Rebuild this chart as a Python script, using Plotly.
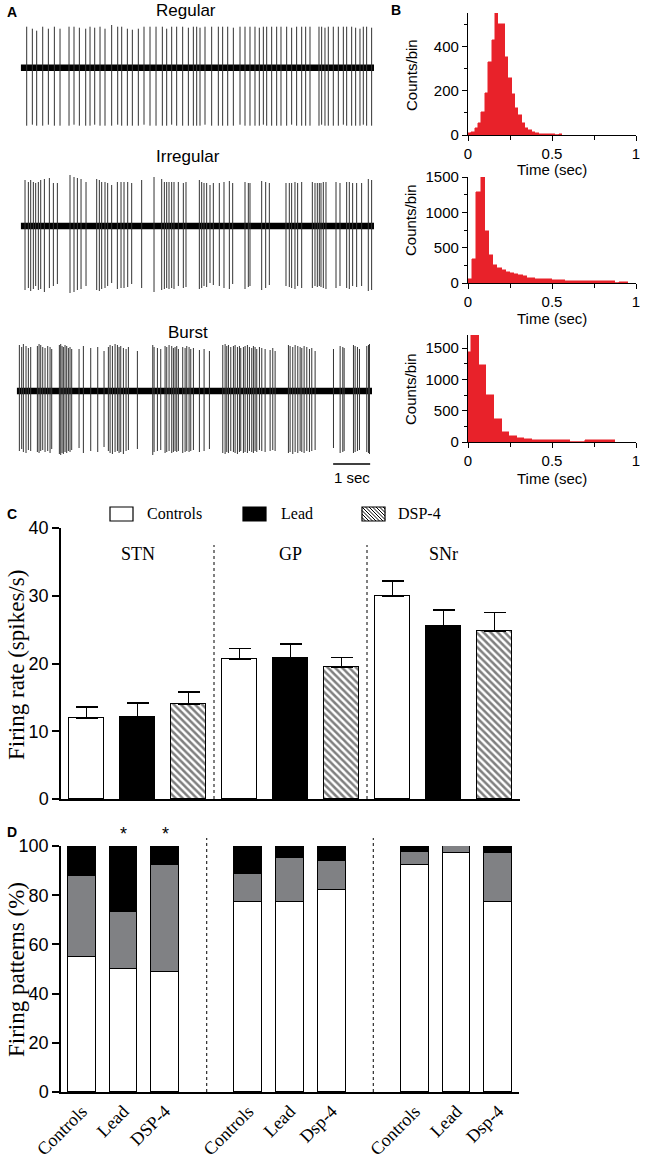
import plotly.graph_objects as go

W, H = 655, 1158


def fx(p):
    return p / W


def fy(p):
    return 1 - p / H


SANS = "Liberation Sans, Arial, sans-serif"
SERIF = "Liberation Serif, Times New Roman, serif"

# ---------------- Panel A : spike trains (time in s, amplitudes in a.u.) ----------------
regular_times = [0.162, 0.315, 0.432, 0.595, 0.748, 0.910, 1.063, 1.306, 1.441, 1.586,
                 1.757, 1.874, 2.000, 2.144, 2.279, 2.459, 2.622, 2.730, 2.883, 3.018,
                 3.180, 3.333, 3.495, 3.658, 3.829, 3.946, 4.081, 4.216, 4.378, 4.532,
                 4.667, 4.757, 4.847, 4.982, 5.162, 5.342, 5.459, 5.595, 5.748, 5.928,
                 6.063, 6.198, 6.333, 6.450, 6.559, 6.649, 6.784, 6.919, 7.036, 7.189,
                 7.324, 7.459, 7.595, 7.703, 7.820, 8.063, 8.135, 8.225, 8.315, 8.450,
                 8.586, 8.721, 8.811, 8.946, 9.054, 9.171, 9.261, 9.351, 9.486]
regular_up = [41, 39, 37, 41, 39, 41, 39, 41, 41, 40,
              39, 41, 40, 41, 39, 43, 41, 41, 39, 38,
              39, 41, 41, 41, 41, 39, 41, 41, 41, 40,
              41, 41, 40, 41, 41, 41, 41, 41, 40, 41,
              41, 41, 41, 40, 41, 41, 41, 41, 41, 41,
              40, 41, 41, 41, 41, 41, 41, 40, 41, 41,
              41, 41, 41, 41, 40, 39, 41, 41, 40]
regular_down = [58, 57, 58, 58, 57, 58, 58, 58, 57, 58,
                58, 58, 57, 58, 58, 58, 57, 58, 58, 58,
                58, 57, 58, 58, 58, 58, 57, 58, 58, 58,
                58, 58, 58, 57, 58, 58, 58, 58, 58, 57,
                58, 58, 58, 58, 57, 58, 58, 58, 58, 58,
                57, 58, 58, 58, 58, 58, 57, 58, 58, 58,
                58, 57, 58, 58, 58, 58, 57, 58, 58]

irregular_times = [0.117, 0.207, 0.270, 0.342, 0.405, 0.477, 0.541, 0.640, 0.775, 0.883,
                   0.991, 1.333, 1.441, 1.532, 1.631, 1.766, 2.054, 2.126, 2.189, 2.279,
                   2.351, 2.459, 2.613, 2.712, 2.793, 2.892, 3.000, 3.270, 3.604, 3.811,
                   3.883, 3.946, 4.009, 4.081, 4.144, 4.261, 4.396, 4.468, 4.829, 4.892,
                   4.955, 5.027, 5.117, 5.207, 5.369, 5.495, 5.640, 5.730, 6.063, 6.153,
                   6.198, 6.514, 6.622, 6.721, 7.171, 7.261, 7.324, 7.414, 7.486, 7.595,
                   7.883, 7.955, 8.018, 8.072, 8.117, 8.180, 8.252, 8.523, 8.631, 8.811,
                   8.883, 8.973, 9.081, 9.216, 9.396, 9.486]
irregular_up = [46, 44, 46, 44, 43, 44, 46, 47, 48, 43,
                43, 51, 49, 48, 47, 44, 47, 46, 44, 44,
                43, 41, 44, 44, 44, 44, 43, 46, 49, 47,
                44, 44, 44, 44, 44, 44, 43, 44, 46, 44,
                43, 43, 41, 43, 43, 44, 45, 43, 44, 43,
                43, 45, 44, 43, 43, 43, 43, 44, 43, 44,
                44, 43, 43, 43, 43, 44, 44, 44, 43, 44,
                44, 43, 43, 43, 47, 46]
irregular_down = [64, 62, 65, 63, 60, 64, 63, 66, 62, 60,
                  58, 67, 66, 64, 63, 60, 64, 65, 63, 62,
                  60, 57, 63, 62, 62, 61, 58, 62, 66, 64,
                  63, 62, 63, 62, 63, 60, 62, 61, 63, 62,
                  60, 61, 57, 59, 60, 62, 63, 58, 63, 61,
                  60, 64, 62, 59, 60, 61, 62, 63, 60, 62,
                  62, 60, 61, 60, 61, 62, 63, 62, 60, 62,
                  63, 60, 61, 60, 65, 64]

burst_times = [0.072, 0.135, 0.180, 0.252, 0.315, 0.378,
               0.559, 0.604, 0.649, 0.703, 0.766, 0.838, 0.901, 0.946,
               1.153, 1.189, 1.225, 1.261, 1.306, 1.351, 1.396, 1.441, 1.486,
               1.685, 1.802, 2.000, 2.189, 2.360,
               2.477, 2.523, 2.586, 2.658, 2.721, 2.766, 2.811, 2.883, 2.955, 3.018,
               3.261,
               3.676, 3.712, 3.802, 3.892,
               4.009, 4.054, 4.117, 4.189, 4.234, 4.279, 4.324, 4.369, 4.486, 4.550,
               4.595, 4.658, 4.703, 4.775, 4.937, 5.063, 5.207,
               5.568, 5.631, 5.676, 5.721, 5.784, 5.856, 5.901, 5.964, 6.018, 6.054,
               6.126, 6.171, 6.234, 6.288, 6.351, 6.396, 6.441, 6.486, 6.559, 6.622,
               6.712, 6.847, 6.919, 6.982,
               7.342, 7.387, 7.459, 7.523, 7.595, 7.658, 7.703, 7.766, 7.838, 7.910,
               7.973, 8.063,
               8.559, 8.739, 8.811, 8.847, 9.099, 9.144, 9.207, 9.261, 9.459, 9.505, 9.532]
burst_up = [46, 44, 47, 45, 43, 44,
            45, 47, 46, 44, 43, 45, 44, 42,
            46, 47, 45, 44, 46, 45, 43, 44, 42,
            42, 45, 43, 44, 40,
            44, 46, 45, 47, 46, 44, 45, 43, 42, 44,
            40,
            46, 44, 43, 42,
            45, 44, 46, 45, 43, 44, 45, 42, 44, 43, 45, 44, 42, 43, 41, 42, 40,
            46, 47, 45, 46, 44, 45, 46, 44, 45, 43, 44, 45, 46, 44, 43, 45, 44, 42,
            44, 43, 42, 41, 43, 40,
            46, 45, 44, 46, 45, 44, 43, 45, 44, 42, 43, 40,
            42, 45, 44, 43, 46, 45, 44, 42, 45, 46, 47]
burst_down = [60, 58, 61, 62, 59, 60,
              61, 62, 60, 59, 61, 60, 62, 58,
              63, 64, 62, 63, 61, 62, 60, 61, 59,
              57, 62, 60, 61, 56,
              60, 62, 63, 61, 60, 62, 61, 63, 60, 59,
              58,
              64, 61, 60, 59,
              62, 61, 60, 62, 61, 60, 61, 60, 62, 61, 60, 61, 60, 59, 61, 60, 58,
              62, 63, 61, 62, 60, 61, 62, 63, 61, 60, 62, 61, 62, 60, 61, 62, 60, 61,
              59, 60, 61, 60, 59, 60,
              62, 61, 63, 61, 62, 60, 61, 62, 60, 61, 60, 59,
              57, 62, 61, 60, 62, 61, 60, 59, 61, 62, 63]
trace_titles = ["Regular", "Irregular", "Burst"]
trace_durations = [9.55, 9.55, 9.6]
scale_bar_sec = 1

# ---------------- Panel B : interspike-interval histograms ----------------
hist_regular_counts = [8, 12, 30, 55, 105, 190, 330, 430, 550, 500, 500, 350, 255, 187, 120,
                       90, 52, 30, 22, 12, 10, 5, 4, 4, 3, 3, 0, 6]
hist_regular_bin = 0.02
hist_regular_start = 0.0

hist_irregular_counts = [55, 340, 1290, 1500, 740, 390, 258, 211, 178, 155, 135, 128, 110, 100,
                         75, 68, 62, 60, 58, 50, 47, 45, 42, 28, 25, 25, 23, 22, 22, 24, 23, 23,
                         22, 22, 22, 0, 20, 18]
hist_irregular_bin = 0.025
hist_irregular_start = 0.0

hist_burst_counts = [1436, 1710, 1234, 755, 372, 154, 90, 64, 48, 38, 32, 32, 32, 32, 0, 0,
                     32, 32, 32, 32]
hist_burst_bin = 0.045
hist_burst_start = -0.025

# ---------------- Panel C : firing rate ----------------
regions = ["STN", "GP", "SNr"]
groups = ["Controls", "Lead", "DSP-4"]
rate_controls = [11.9, 20.7, 29.9]
rate_lead = [12.1, 20.8, 25.6]
rate_dsp4 = [14.0, 19.5, 24.8]
sem_controls = [1.7, 1.5, 2.3]
sem_lead = [2.1, 2.1, 2.3]
sem_dsp4 = [1.8, 1.4, 2.7]

# ---------------- Panel D : firing patterns (%) ----------------
pattern_labels = ["Controls", "Lead", "DSP-4", "Controls", "Lead", "Dsp-4",
                  "Controls", "Lead", "Dsp-4"]
pct_regular = [54.8, 50.0, 48.8, 77.4, 77.4, 82.1, 92.4, 97.0, 77.4]
pct_irregular = [33.0, 23.3, 43.5, 11.2, 17.8, 11.8, 5.0, 3.0, 19.8]
pct_burst = [12.2, 26.7, 7.7, 11.4, 4.8, 6.1, 2.6, 0.0, 2.8]
significant = [False, True, True, False, False, False, False, False, False]

fig = go.Figure()

# ---- Panel A traces ----
trace_sets = [(regular_times, regular_up, regular_down),
              (irregular_times, irregular_up, irregular_down),
              (burst_times, burst_up, burst_down)]
for i, (ts, ups, downs) in enumerate(trace_sets):
    ax = "" if i == 0 else str(i + 1)
    xs, ys = [], []
    for t, u, d in zip(ts, ups, downs):
        xs += [t, t, None]
        ys += [u, -d, None]
    fig.add_trace(go.Scatter(x=[0, trace_durations[i]], y=[0, 0], mode="lines",
                             line=dict(color="black", width=6.5), xaxis="x" + ax, yaxis="y" + ax,
                             showlegend=False, hoverinfo="skip"))
    fig.add_trace(go.Scatter(x=xs, y=ys, mode="lines", line=dict(color="#333333", width=1),
                             xaxis="x" + ax, yaxis="y" + ax, showlegend=False, hoverinfo="skip"))

# ---- Panel B histograms ----
hists = [(hist_regular_counts, hist_regular_bin, hist_regular_start),
         (hist_irregular_counts, hist_irregular_bin, hist_irregular_start),
         (hist_burst_counts, hist_burst_bin, hist_burst_start)]
for i, (counts, bw, start) in enumerate(hists):
    ax = str(i + 4)
    fig.add_trace(go.Bar(y=counts, x0=start + bw / 2, dx=bw, width=bw,
                         marker=dict(color="#E8222A", line=dict(color="#E8222A", width=0.5)),
                         xaxis="x" + ax, yaxis="y" + ax, showlegend=False))

# ---- Panel C bars ----
c_series = [(rate_controls, sem_controls, "white", ""),
            (rate_lead, sem_lead, "black", ""),
            (rate_dsp4, sem_dsp4, "white", "\\")]
for j, (vals, sems, col, pat) in enumerate(c_series):
    xs = [3 * r + j for r in range(len(regions))]
    fig.add_trace(go.Bar(
        x=xs, y=vals, width=0.67,
        marker=dict(color=col, line=dict(color="black", width=1.5),
                    pattern=dict(shape=pat, fgcolor="black", bgcolor="white", size=5,
                                 solidity=0.5) if pat else None),
        error_y=dict(type="data", symmetric=False, array=sems,
                     arrayminus=[0] * len(sems), color="black", thickness=1.5, width=11),
        xaxis="x7", yaxis="y7", showlegend=False, name=groups[j]))

# ---- Panel D stacked bars ----
d_pos = [0, 1, 2, 4, 5, 6, 8, 9, 10]
for vals, col in [(pct_regular, "white"), (pct_irregular, "#808184"), (pct_burst, "black")]:
    fig.add_trace(go.Bar(x=d_pos, y=vals, width=0.67,
                         marker=dict(color=col, line=dict(color="black", width=1.2)),
                         xaxis="x8", yaxis="y8", showlegend=False))

hidden = dict(visible=False, showgrid=False, zeroline=False, automargin=False)
layout = dict(
    width=W, height=H, margin=dict(l=0, r=0, t=0, b=0, autoexpand=False),
    paper_bgcolor="white", plot_bgcolor="white", barmode="stack", bargap=0,
    font=dict(family=SANS, color="black"),
    xaxis=dict(domain=[fx(20.7), fx(374)], range=[0, trace_durations[0]], anchor="y", **hidden),
    yaxis=dict(domain=[fy(128), fy(25)], range=[-60.3, 42.7], anchor="x", **hidden),
    xaxis2=dict(domain=[fx(20.7), fx(374)], range=[0, trace_durations[1]], anchor="y2", **hidden),
    yaxis2=dict(domain=[fy(296), fy(172)], range=[-70, 54], anchor="x2", **hidden),
    xaxis3=dict(domain=[fx(16.7), fx(372)], range=[0, trace_durations[2]], anchor="y3", **hidden),
    yaxis3=dict(domain=[fy(458), fy(340)], range=[-67, 51], anchor="x3", **hidden),
)

hist_y = [((135, 13), 550, 200, 100), ((283, 177), 1500, 500, 250), ((442, 335), 1710, 500, 250)]
for i, ((b, t), top, dt, mdt) in enumerate(hist_y):
    ax = str(i + 4)
    axis_common = dict(showline=True, linecolor="black", linewidth=1.2, ticks="outside",
                       ticklen=5, tickwidth=1.2, tickcolor="black", showgrid=False,
                       zeroline=False, automargin=False, tickfont=dict(size=15, family=SANS))
    layout["xaxis" + ax] = dict(domain=[fx(468), fx(636)], range=[0, 1], anchor="y" + ax,
                                tickmode="linear", tick0=0, dtick=0.5,
                                minor=dict(tickmode="linear", tick0=0, dtick=0.25, ticks="outside",
                                           ticklen=4, tickcolor="black", tickwidth=1.2),
                                **axis_common)
    layout["yaxis" + ax] = dict(domain=[fy(b), fy(t)], range=[0, top], anchor="x" + ax,
                                tickmode="linear", tick0=0, dtick=dt,
                                minor=dict(tickmode="linear", tick0=0, dtick=mdt, ticks="outside",
                                           ticklen=3, tickcolor="black", tickwidth=1.2),
                                **axis_common)

layout["xaxis7"] = dict(domain=[fx(61), fx(520)], range=[-0.5, 8.5], anchor="y7",
                        showline=True, linecolor="black", linewidth=1.5, showticklabels=False,
                        ticks="", showgrid=False, zeroline=False, automargin=False)
layout["yaxis7"] = dict(domain=[fy(799), fy(528)], range=[0, 40], anchor="x7",
                        showline=True, linecolor="black", linewidth=1.5, ticks="outside",
                        ticklen=7, tickwidth=1.5, tickcolor="black", dtick=10, showgrid=False,
                        zeroline=False, automargin=False, tickfont=dict(size=18, family=SANS))
layout["xaxis8"] = dict(domain=[fx(61), fx(519)], range=[-0.5, 10.5], anchor="y8",
                        showline=True, linecolor="black", linewidth=1.5, ticks="",
                        tickmode="array", tickvals=d_pos, ticktext=pattern_labels,
                        tickangle=-45, tickfont=dict(size=18, family=SERIF),
                        showgrid=False, zeroline=False, automargin=False)
layout["yaxis8"] = dict(domain=[fy(1092), fy(846)], range=[0, 100], anchor="x8",
                        showline=True, linecolor="black", linewidth=1.5, ticks="outside",
                        ticklen=7, tickwidth=1.5, tickcolor="black", dtick=20, showgrid=False,
                        zeroline=False, automargin=False, tickfont=dict(size=18, family=SANS))
fig.update_layout(**layout)

ann = []


def text(x, y, s, size=15, family=SANS, bold=False, angle=0, xanchor="center"):
    ann.append(dict(x=fx(x), y=fy(y), xref="paper", yref="paper", text=f"<b>{s}</b>" if bold else s,
                    showarrow=False, font=dict(size=size, family=family, color="black"),
                    textangle=angle, xanchor=xanchor, yanchor="middle"))


# panel letters
text(12, 12, "A", 14, bold=True)
text(396, 10, "B", 14, bold=True)
text(12, 514, "C", 14, bold=True)
text(12, 832, "D", 14, bold=True)

# trace titles
for title, (cx, cy) in zip(trace_titles, [(186, 11), (188, 157), (188, 332)]):
    text(cx, cy, title, 17)

# scale bar
fig.add_shape(type="line", xref="x3", yref="paper", x0=trace_durations[2] - 1.05,
              x1=trace_durations[2] - 1.05 + scale_bar_sec, y0=fy(464), y1=fy(464),
              line=dict(color="black", width=1.5))
text(352, 477, f"{scale_bar_sec} sec", 15)

# histogram labels
for cy, ty in [(75, 169), (220, 318), (389, 478)]:
    text(411, cy, "Counts/bin", 15, angle=-90)
    text(552, ty, "Time (sec)", 15)

# panel C labels
for k, reg in enumerate(regions):
    ann.append(dict(x=3 * k + 1, y=36.2, xref="x7", yref="y7", text=reg, showarrow=False,
                    font=dict(size=18, family=SERIF, color="black")))
text(16, 665, "Firing rate (spikes/s)", 23, family=SERIF, angle=-90)
text(16, 970, "Firing patterns (%)", 23, family=SERIF, angle=-90)

# panel C / D dotted separators
for xv in [2.5, 5.5]:
    fig.add_shape(type="line", xref="x7", yref="paper", x0=xv, x1=xv, y0=fy(799), y1=fy(545),
                  line=dict(color="black", width=1, dash="dot"))
for xv in [3, 7]:
    fig.add_shape(type="line", xref="x8", yref="paper", x0=xv, x1=xv, y0=fy(1092), y1=fy(838),
                  line=dict(color="black", width=1, dash="dot"))

# asterisks
for p, sig in zip(d_pos, significant):
    if sig:
        ann.append(dict(x=p, y=fy(834), xref="x8", yref="paper", text="*", showarrow=False,
                        font=dict(size=18, family=SANS, color="black"), yanchor="middle"))

# custom legend for panel C
legend_items = [(110, 145, "white"), (243, 279, "black"), (362, 396, "hatch")]
top_px, bot_px = 507, 521
for (bx, tx, style), label in zip(legend_items, groups):
    fill = "black" if style == "black" else "white"
    fig.add_shape(type="rect", xref="paper", yref="paper", x0=fx(bx), x1=fx(bx + 23),
                  y0=fy(bot_px), y1=fy(top_px), fillcolor=fill, line=dict(color="black", width=1.2))
    if style == "hatch":
        h = bot_px - top_px
        path = ""
        a = bx - h
        while a < bx + 23:
            sx = max(a, bx)
            ex = min(a + h, bx + 23)
            if ex > sx:
                path += f"M{fx(sx)},{fy(top_px + (sx - a))} L{fx(ex)},{fy(top_px + (ex - a))} "
            a += 3.5
        fig.add_shape(type="path", xref="paper", yref="paper", path=path,
                      line=dict(color="black", width=1))
    text(tx, 514, label, 16, family=SERIF, xanchor="left")

fig.update_layout(annotations=ann)
fig.write_html("out.html", config={"displayModeBar": False},
               post_script="document.body.style.margin='0px';document.body.style.overflow='hidden';")
